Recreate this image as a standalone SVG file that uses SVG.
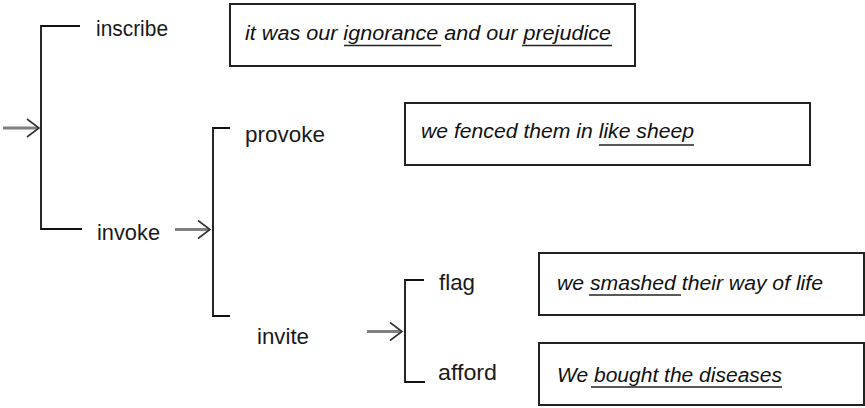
<svg xmlns="http://www.w3.org/2000/svg" width="865" height="408" viewBox="0 0 865 408">
<style>
.lbl{font-family:"Liberation Sans",Arial,sans-serif;font-size:22px;fill:#1a1a1a}
.quote{font-family:"Liberation Sans",Arial,sans-serif;font-size:20px;font-style:italic;fill:#111}
.box{fill:#fff;stroke:#222;stroke-width:2}
.br{fill:none;stroke:#111;stroke-width:1.8}
.shaft{stroke:#808080;stroke-width:3;fill:none}
.head{stroke:#333;stroke-width:1.6;fill:none}
.ul{stroke:#222;stroke-width:1.5}
</style>
<rect width="865" height="408" fill="#fff"/>
<g id="connectors">
  <path class="br" d="M80,26 H41 V229 H82"/>
  <path class="br" d="M230,128 H213 V316 H230"/>
  <path class="br" d="M424,280 H405 V382 H425"/>
  <line class="shaft" x1="3" y1="128" x2="38" y2="128"/>
  <path class="head" d="M27,119 L39,128 L27,137"/>
  <line class="shaft" x1="175" y1="229.5" x2="209" y2="229.5"/>
  <path class="head" d="M198,220.5 L210,229.5 L198,238.5"/>
  <line class="shaft" x1="367" y1="331.5" x2="401" y2="331.5"/>
  <path class="head" d="M390,322.5 L402,331.5 L390,340.5"/>
</g>
<g id="inscribe"><text class="lbl" x="96" y="36" textLength="72" lengthAdjust="spacingAndGlyphs">inscribe</text></g>
<g id="invoke"><text class="lbl" x="97" y="240" textLength="63" lengthAdjust="spacingAndGlyphs">invoke</text></g>
<g id="provoke"><text class="lbl" x="245" y="142" textLength="80" lengthAdjust="spacingAndGlyphs">provoke</text></g>
<g id="invite"><text class="lbl" x="257" y="344" textLength="52" lengthAdjust="spacingAndGlyphs">invite</text></g>
<g id="flag"><text class="lbl" x="439" y="290" textLength="36" lengthAdjust="spacingAndGlyphs">flag</text></g>
<g id="afford"><text class="lbl" x="438" y="380" textLength="59" lengthAdjust="spacingAndGlyphs">afford</text></g>
<g id="quote1">
  <rect class="box" x="230" y="4" width="405" height="62"/>
  <text class="quote" x="245" y="40" textLength="366" lengthAdjust="spacingAndGlyphs">it was our ignorance and our prejudice</text>
  <line class="ul" x1="344" y1="45.5" x2="441" y2="45.5"/>
  <line class="ul" x1="522" y1="45.5" x2="612" y2="45.5"/>
</g>
<g id="quote2">
  <rect class="box" x="405" y="103" width="405" height="62"/>
  <text class="quote" x="421" y="138" textLength="273" lengthAdjust="spacingAndGlyphs">we fenced them in like sheep</text>
  <line class="ul" x1="599" y1="145" x2="694" y2="145"/>
</g>
<g id="quote3">
  <rect class="box" x="539" y="253" width="325" height="62"/>
  <text class="quote" x="557" y="290" textLength="266" lengthAdjust="spacingAndGlyphs">we smashed their way of life</text>
  <line class="ul" x1="589" y1="295" x2="681" y2="295"/>
</g>
<g id="quote4">
  <rect class="box" x="539" y="343" width="325" height="62"/>
  <text class="quote" x="557" y="382" textLength="225" lengthAdjust="spacingAndGlyphs">We bought the diseases</text>
  <line class="ul" x1="591" y1="387" x2="782" y2="387"/>
</g>
</svg>
